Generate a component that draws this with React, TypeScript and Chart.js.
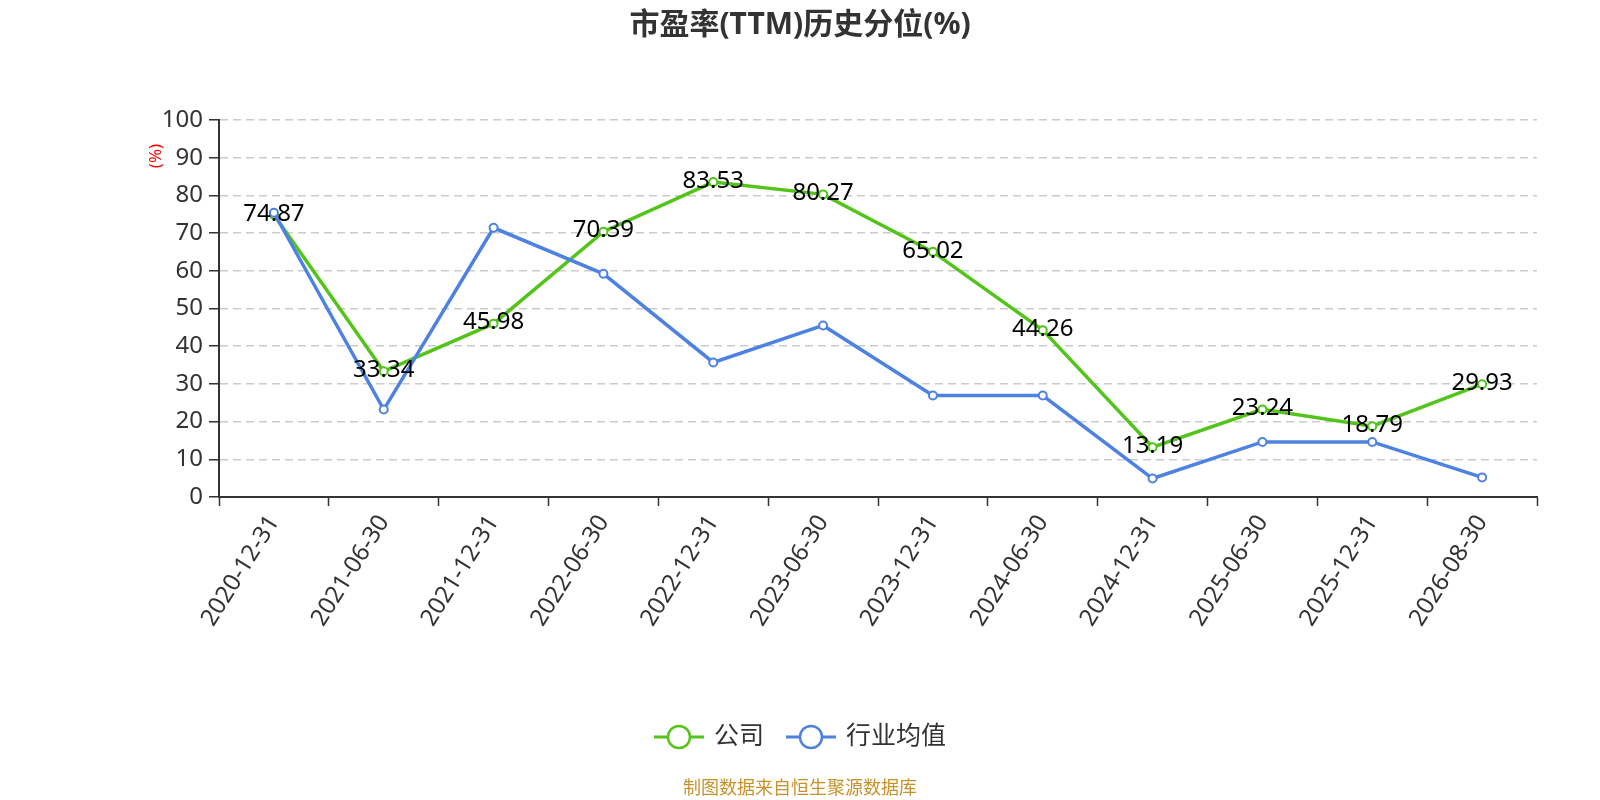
import { useEffect, useRef } from "react";
import { Chart, registerables, Plugin } from "chart.js";

Chart.register(...registerables);

const categories = [
  "2020-12-31",
  "2021-06-30",
  "2021-12-31",
  "2022-06-30",
  "2022-12-31",
  "2023-06-30",
  "2023-12-31",
  "2024-06-30",
  "2024-12-31",
  "2025-06-30",
  "2025-12-31",
  "2026-08-30",
];
const companyValues = [74.87, 33.34, 45.98, 70.39, 83.53, 80.27, 65.02, 44.26, 13.19, 23.24, 18.79, 29.93];
const industryValues = [75.4, 23.2, 71.4, 59.2, 35.7, 45.5, 26.9, 26.9, 4.9, 14.6, 14.6, 5.2];
const seriesNames = ["公司", "行业均值"];
const seriesColors = ["#52c41a", "#4d82e2"];
const yMin = 0;
const yMax = 100;
const yStep = 10;
const titleText = "市盈率(TTM)历史分位(%)";
const yAxisTitle = "(%)";
const sourceText = "制图数据来自恒生聚源数据库";

const FONT = '"Noto Sans", "Noto Sans CJK SC", sans-serif';

// labels on the company line, title, legend, footer
const decorations: Plugin<"line"> = {
  id: "decorations",
  afterDatasetsDraw(chart) {
    const ctx = chart.ctx;
    const meta = chart.getDatasetMeta(0);
    ctx.save();
    ctx.font = `24px ${FONT}`;
    ctx.fillStyle = "#000";
    ctx.textAlign = "center";
    ctx.textBaseline = "middle";
    meta.data.forEach((pt, i) => {
      ctx.fillText(companyValues[i].toFixed(2), pt.x, pt.y - 1);
    });
    ctx.restore();
  },
  afterDraw(chart) {
    const ctx = chart.ctx;
    const w = chart.width;
    ctx.save();

    ctx.fillStyle = "#333";
    ctx.font = `bold 30px ${FONT}`;
    ctx.textAlign = "center";
    ctx.textBaseline = "middle";
    ctx.fillText(titleText, w / 2, 25);

    // y axis unit
    ctx.save();
    ctx.translate(156, 156);
    ctx.rotate(-Math.PI / 2);
    ctx.fillStyle = "#f00";
    ctx.font = `17px ${FONT}`;
    ctx.fillText(yAxisTitle, 0, 0);
    ctx.restore();

    // legend
    ctx.font = `25px ${FONT}`;
    const widths = seriesNames.map((n) => 60 + ctx.measureText(n).width);
    const gap = 22;
    const total = widths.reduce((a, b) => a + b, 0) + gap * (widths.length - 1);
    let x = w / 2 - total / 2;
    const ly = 737;
    seriesNames.forEach((name, i) => {
      ctx.strokeStyle = seriesColors[i];
      ctx.lineWidth = 3;
      ctx.beginPath();
      ctx.moveTo(x, ly);
      ctx.lineTo(x + 50, ly);
      ctx.stroke();
      ctx.beginPath();
      ctx.arc(x + 25, ly, 11, 0, Math.PI * 2);
      ctx.fillStyle = "#fff";
      ctx.fill();
      ctx.lineWidth = 2.5;
      ctx.stroke();
      ctx.fillStyle = "#333";
      ctx.textAlign = "left";
      ctx.fillText(name, x + 60, ly);
      x += widths[i] + gap;
    });

    ctx.fillStyle = "#c8922a";
    ctx.font = `18px ${FONT}`;
    ctx.textAlign = "center";
    ctx.fillText(sourceText, w / 2, 789);
    ctx.restore();
  },
};

const App = () => {
  const canvasRef = useRef<HTMLCanvasElement>(null);

  useEffect(() => {
    document.body.style.margin = "0";
    const chart = new Chart(canvasRef.current!, {
      type: "line",
      data: {
        labels: categories,
        datasets: [
          {
            label: seriesNames[0],
            data: companyValues,
            borderColor: seriesColors[0],
            backgroundColor: "#fff",
            pointBackgroundColor: "#fff",
            pointBorderColor: seriesColors[0],
            borderWidth: 3.5,
            pointRadius: 4,
            pointBorderWidth: 2,
            tension: 0,
            order: 1,
          },
          {
            label: seriesNames[1],
            data: industryValues,
            borderColor: seriesColors[1],
            backgroundColor: "#fff",
            pointBackgroundColor: "#fff",
            pointBorderColor: seriesColors[1],
            borderWidth: 3.5,
            pointRadius: 4,
            pointBorderWidth: 2,
            tension: 0,
            order: 0,
          },
        ],
      },
      options: {
        responsive: false,
        animation: false,
        layout: { padding: { left: 0, right: 63, top: 120, bottom: 0 } },
        plugins: {
          legend: { display: false },
          title: { display: false },
          tooltip: { enabled: false },
        },
        scales: {
          x: {
            offset: true,
            grid: {
              display: true,
              offset: true,
              drawOnChartArea: false,
              drawTicks: true,
              tickLength: 9,
              tickColor: "#333",
              tickWidth: 1.5,
            },
            border: { display: true, color: "#333", width: 2 },
            ticks: {
              color: "#333",
              font: { size: 24, family: FONT },
              maxRotation: 58,
              minRotation: 58,
              padding: 4,
              autoSkip: false,
            },
            afterFit: (s) => {
              s.height = 303;
            },
          },
          y: {
            min: yMin,
            max: yMax,
            ticks: {
              stepSize: yStep,
              color: "#333",
              font: { size: 24, family: FONT },
              padding: 6,
            },
            grid: {
              color: (c) => (c.tick && c.tick.value === 0 ? "rgba(0,0,0,0)" : "#ccc"),
              lineWidth: 1.5,
              tickLength: 10,
              tickColor: "#333",
              tickWidth: 1.5,
              tickBorderDash: [],
            },
            border: { display: true, color: "#333", width: 2, dash: [8, 5] },
            afterFit: (s) => {
              s.width = 219;
            },
          },
        },
      },
      plugins: [decorations],
    });
    return () => {
      chart.destroy();
    };
  }, []);

  return <canvas ref={canvasRef} width={1600} height={800} />;
};

export default App;
